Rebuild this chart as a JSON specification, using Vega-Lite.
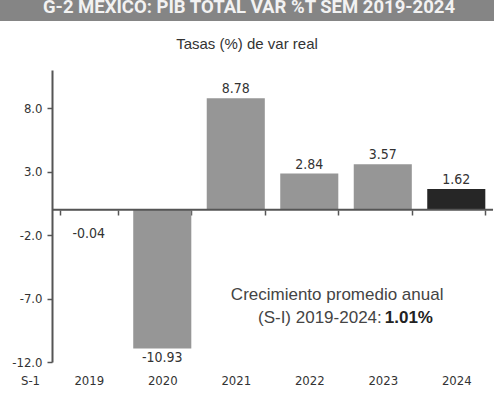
{
  "$schema": "https://vega.github.io/schema/vega-lite/v6.json",
  "padding": 0,
  "spacing": 16,
  "background": "white",
  "config": {
    "view": {"stroke": null},
    "locale": {"number": {"decimal": ".", "thousands": ",", "grouping": [3], "currency": ["$", ""], "minus": "-"}}
  },
  "vconcat": [
    {
      "width": 494,
      "height": 21,
      "view": {"fill": "#858585", "stroke": null},
      "data": {"values": [{"label": "G-2   MEXICO: PIB TOTAL VAR %T   SEM 2019-2024"}]},
      "mark": {"type": "text", "clip": true, "font": "Roboto, sans-serif", "fontWeight": "bold", "fontSize": 18.5, "color": "#f2f2f2", "baseline": "alphabetic", "dy": 2, "dx": 2},
      "encoding": {"text": {"field": "label"}}
    },
    {
      "width": 493,
      "height": 292,
      "title": {"text": "Tasas (%) de var real", "frame": "bounds", "anchor": "middle", "font": "Liberation Sans, Arial, sans-serif", "fontSize": 15, "fontWeight": "normal", "color": "#333333", "offset": 18},
      "data": {"values": [
        {"year": "2019", "value": -0.04},
        {"year": "2020", "value": -10.93},
        {"year": "2021", "value": 8.78},
        {"year": "2022", "value": 2.84},
        {"year": "2023", "value": 3.57},
        {"year": "2024", "value": 1.62}
      ]},
      "encoding": {
        "x": {"field": "year", "type": "nominal", "sort": null,
          "scale": {"paddingInner": 0.21, "paddingOuter": 0.4586, "align": 0.886},
          "axis": {"title": "S-1", "titleX": 30, "titleY": 164, "titleAlign": "center", "titleBaseline": "top",
            "titleFont": "DejaVu Sans Condensed, sans-serif", "titleFontSize": 13, "titleFontWeight": "normal", "titleColor": "#333333",
            "offset": -152, "domain": false, "tickColor": "#555555", "tickWidth": 1.5, "tickSize": 5, "tickBand": "extent",
            "labelAngle": 0, "labelPadding": 159, "labelFont": "DejaVu Sans Condensed, sans-serif", "labelFontSize": 13, "labelColor": "#333333"}},
        "y": {"field": "value", "type": "quantitative",
          "scale": {"domain": [-12, 11], "nice": false, "zero": false},
          "axis": {"title": null, "values": [-12, -7, -2, 3, 8], "format": ".1f", "grid": false, "offset": -52,
            "domainColor": "#555555", "domainWidth": 2, "tickColor": "#555555", "tickWidth": 1.5, "tickSize": 5,
            "labelPadding": 5,
            "labelFont": "DejaVu Sans Condensed, sans-serif", "labelFontSize": 13, "labelColor": "#333333"}}
      },
      "layer": [
        {
          "mark": {"type": "bar"},
          "encoding": {
            "color": {"condition": {"test": "datum.year == '2024'", "value": "#262626"}, "value": "#969696"}
          }
        },
        {
          "data": {"values": [{"from": "2019", "to": "2024", "base": 0}]},
          "mark": {"type": "rule", "color": "#555555", "strokeWidth": 2},
          "encoding": {
            "x": {"field": "from", "type": "nominal", "bandPosition": -0.133},
            "x2": {"field": "to", "bandPosition": 1.133},
            "y": {"field": "base", "type": "quantitative"}
          }
        },
        {
          "transform": [{"filter": "datum.value >= 0"}],
          "mark": {"type": "text", "baseline": "alphabetic", "dy": -5, "font": "DejaVu Sans Condensed, sans-serif", "fontSize": 14, "color": "#333333"},
          "encoding": {"text": {"field": "value", "type": "quantitative", "format": ".2f"}}
        },
        {
          "transform": [{"filter": "datum.value < -1"}],
          "mark": {"type": "text", "baseline": "top", "dy": 3, "font": "DejaVu Sans Condensed, sans-serif", "fontSize": 14, "color": "#333333"},
          "encoding": {"text": {"field": "value", "type": "quantitative", "format": ".2f"}}
        },
        {
          "transform": [{"filter": "datum.value < 0 && datum.value >= -1"}],
          "mark": {"type": "text", "baseline": "top", "dy": 17, "font": "DejaVu Sans Condensed, sans-serif", "fontSize": 14, "color": "#333333"},
          "encoding": {"text": {"field": "value", "type": "quantitative", "format": ".2f"}}
        },
        {
          "data": {"values": [{"year": "2022", "at": -6.72, "label": "Crecimiento promedio anual"}]},
          "mark": {"type": "text", "align": "center", "baseline": "middle", "font": "Liberation Sans, Arial, sans-serif", "fontSize": 17, "color": "#444444"},
          "encoding": {
            "x": {"field": "year", "type": "nominal", "bandPosition": 0.98},
            "y": {"field": "at", "type": "quantitative"},
            "text": {"field": "label", "type": "nominal"}
          }
        },
        {
          "data": {"values": [{"year": "2023", "at": -8.53, "label": "(S-I) 2019-2024: "}]},
          "mark": {"type": "text", "align": "right", "baseline": "middle", "dx": -1, "font": "Liberation Sans, Arial, sans-serif", "fontSize": 17, "color": "#444444"},
          "encoding": {
            "x": {"field": "year", "type": "nominal"},
            "y": {"field": "at", "type": "quantitative"},
            "text": {"field": "label", "type": "nominal"}
          }
        },
        {
          "data": {"values": [{"year": "2023", "at": -8.53, "label": "1.01%"}]},
          "mark": {"type": "text", "align": "left", "baseline": "middle", "dx": 2, "font": "Liberation Sans, Arial, sans-serif", "fontSize": 17, "fontWeight": "bold", "color": "#222222"},
          "encoding": {
            "x": {"field": "year", "type": "nominal"},
            "y": {"field": "at", "type": "quantitative"},
            "text": {"field": "label", "type": "nominal"}
          }
        }
      ]
    }
  ]
}
